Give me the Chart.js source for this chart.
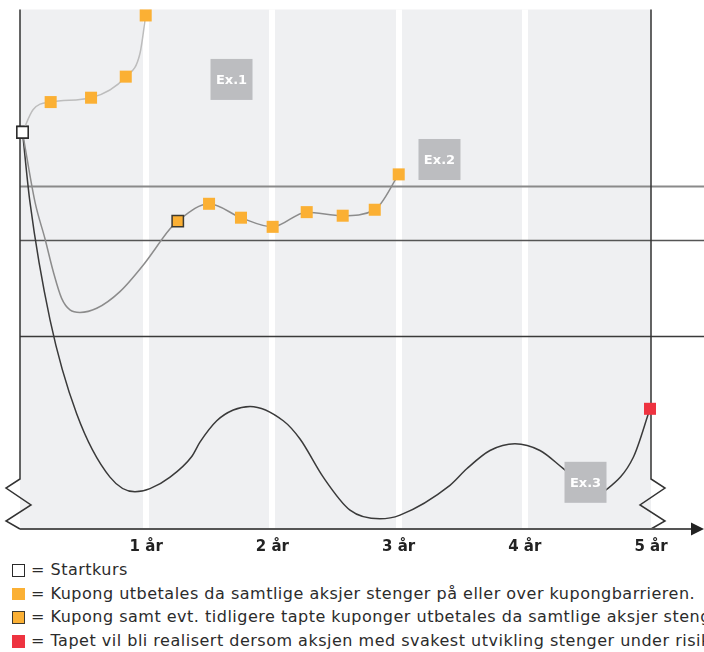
<!DOCTYPE html>
<html>
<head>
<meta charset="utf-8">
<script src="https://cdn.jsdelivr.net/npm/chart.js@4"></script>
<style>
  html, body { margin: 0; padding: 0; background: #fff; }
  body { width: 704px; height: 652px; overflow: hidden; position: relative; }
  #chart { position: absolute; left: 0; top: 0; }
  #legend { position: absolute; left: 0; top: 558px; width: 704px; font-family: "DejaVu Sans", sans-serif;
            font-size: 16px; letter-spacing: 0.5px; color: #2b2b2b; white-space: nowrap; }
  .row { position: relative; height: 23.7px; line-height: 23.7px; }
  .mark { position: absolute; left: 12px; top: 6px; width: 12.5px; height: 12.5px; box-sizing: border-box; }
  .txt { position: absolute; left: 31px; top: 0; }
  .start { background: #fff; border: 1.5px solid #2a2a2a; }
  .coupon { background: #fbb034; }
  .memory { background: #fbb034; border: 1.5px solid #3e3a30; }
  .loss { background: #ee3340; }
</style>
</head>
<body>
<canvas id="chart" width="704" height="558"></canvas>
<div id="legend"></div>
<script>
// x axis in years, y in % of start price
const xTicks = [1, 2, 3, 4, 5];
const xTickLabels = ['1 år', '2 år', '3 år', '4 år', '5 år'];
const barrierLevels = [86, 72.6, 48.25];

// marks: s = startkurs, c = kupong, m = kupong + tapte kuponger, l = tap, '' = no marker
const ex1Years  = [0.02, 0.103, 0.243, 0.563, 0.838, 0.951, 0.996];
const ex1Values = [99.6, 105.25, 107.2, 108.3, 113.6, 119.5, 129];
const ex1Marks  = ['s', '', 'c', 'c', 'c', '', 'c'];

const ex2Years  = [0.02, 0.119, 0.198, 0.264, 0.330, 0.396, 0.475, 0.608, 0.792, 0.977, 1.189,
                   1.25, 1.498, 1.751, 2.002, 2.272, 2.557, 2.811, 3.001];
const ex2Values = [99.6, 82, 72.8, 64.5, 57.8, 54.9, 54.25, 55.3, 59.5, 66.2, 75.3,
                   77.25, 81.6, 78.1, 75.8, 79.5, 78.6, 80.1, 89];
const ex2Marks  = ['s', '', '', '', '', '', '', '', '', '', '', 'm', 'c', 'c', 'c', 'c', 'c', 'c', 'c'];

const ex3Years  = [0.02, 0.079, 0.238, 0.449, 0.713, 0.911, 1.03, 1.189, 1.361, 1.426, 1.559, 1.69,
                   1.823, 2.086, 2.219, 2.403, 2.615, 2.852, 3.011, 3.407, 3.54, 3.724, 3.922, 4.12, 4.303,
                   4.56, 4.649, 4.86, 4.992];
const ex3Values = [99.6, 82, 52.4, 28.75, 12.8, 9.1, 9.9, 12.8, 18, 21.6, 27, 29.7,
                   30.6, 27, 22.4, 12.8, 4.5, 2.3, 3.25, 10.75, 14.9, 19.5, 21.2, 19.5, 15,
                   8.5, 9.7, 17.8, 30];
const ex3Marks  = ex3Years.map((t, i) => i === 0 ? 's' : (i === ex3Years.length - 1 ? 'l' : ''));

const legendKinds = ['start', 'coupon', 'memory', 'loss'];
const legendLabels = [
  '= Startkurs',
  '= Kupong utbetales da samtlige aksjer stenger på eller over kupongbarrieren.',
  '= Kupong samt evt. tidligere tapte kuponger utbetales da samtlige aksjer stenger på eller over kupongbarrieren.',
  '= Tapet vil bli realisert dersom aksjen med svakest utvikling stenger under risikobarrieren.'
];

const markFill   = { s: '#ffffff', c: '#fbb034', m: '#fbb034', l: '#ee3340' };
const markBorder = { s: '#2a2a2a', c: '#fbb034', m: '#3e3a30', l: '#ee3340' };
const markWidth  = { s: 1.5, c: 0, m: 1.5, l: 0 };

function makeSeries(label, years, values, marks, color) {
  return {
    label: label,
    data: years.map((t, i) => ({ x: t, y: values[i] })),
    borderColor: color,
    borderWidth: 1.5,
    cubicInterpolationMode: 'monotone',
    clip: false,
    pointStyle: 'rect',
    pointRadius: (c) => marks[c.dataIndex] ? (marks[c.dataIndex] === 'c' || marks[c.dataIndex] === 'l' ? 8.5 : 8) : 0,
    pointBackgroundColor: (c) => markFill[marks[c.dataIndex]] || color,
    pointBorderColor: (c) => markBorder[marks[c.dataIndex]] || color,
    pointBorderWidth: (c) => markWidth[marks[c.dataIndex]] || 0
  };
}

function drawBroken(ctx, px, top, bottom, dir) {
  const b = bottom - 49;
  ctx.beginPath();
  ctx.moveTo(px, top);
  ctx.lineTo(px, b);
  ctx.lineTo(px + 14 * dir, b + 9);
  ctx.lineTo(px - 11 * dir, b + 26);
  ctx.lineTo(px + 14 * dir, b + 42);
  ctx.lineTo(px, bottom + 1);
  ctx.stroke();
}

const levelColors = ['#8a8a8a', '#555555', '#3a3a3a'];
const levelWidths = [2, 1.5, 1.5];

const chartDecor = {
  id: 'chartDecor',
  beforeDraw(chart) {
    const { ctx, chartArea: a } = chart;
    ctx.save();
    ctx.fillStyle = '#eff0f2';
    ctx.fillRect(a.left, a.top, a.right - a.left, a.bottom - a.top);
    ctx.restore();
  },
  beforeDatasetsDraw(chart) {
    const { ctx, chartArea: a, scales: { x, y } } = chart;
    ctx.save();
    barrierLevels.forEach((lvl, i) => {
      const py = Math.round(y.getPixelForValue(lvl)) + 0.5;
      ctx.strokeStyle = levelColors[i];
      ctx.lineWidth = levelWidths[i];
      ctx.beginPath();
      ctx.moveTo(a.left, py);
      ctx.lineTo(chart.width, py);
      ctx.stroke();
    });
    const x0 = x.getPixelForValue(0), x5 = x.getPixelForValue(5), yb = y.getPixelForValue(0);
    ctx.strokeStyle = '#333';
    ctx.lineWidth = 1.5;
    drawBroken(ctx, x0, a.top, yb, -1);
    drawBroken(ctx, x5, a.top, yb, 1);
    // time axis with arrow
    ctx.strokeStyle = '#555';
    ctx.lineWidth = 2;
    ctx.beginPath();
    ctx.moveTo(x0, yb + 1);
    ctx.lineTo(chart.width - 12, yb + 1);
    ctx.stroke();
    ctx.fillStyle = '#222';
    ctx.beginPath();
    ctx.moveTo(chart.width, yb + 1);
    ctx.lineTo(chart.width - 13, yb - 5.5);
    ctx.lineTo(chart.width - 13, yb + 7.5);
    ctx.closePath();
    ctx.fill();
    ctx.restore();
  },
  afterDatasetsDraw(chart, args, opts) {
    const { ctx, scales: { x, y } } = chart;
    ctx.save();
    ctx.font = 'bold 13px "DejaVu Sans"';
    ctx.textAlign = 'center';
    ctx.textBaseline = 'middle';
    opts.boxes.forEach((b) => {
      const cx = x.getPixelForValue(b.x), cy = y.getPixelForValue(b.y);
      ctx.fillStyle = '#bcbdc0';
      ctx.fillRect(cx - 21, cy - 20.5, 42, 41);
      ctx.fillStyle = '#ffffff';
      ctx.fillText(b.text, cx, cy + 1);
    });
    ctx.restore();
  },
  defaults: { boxes: [] }
};

window.addEventListener('load', () => {
  const legend = document.getElementById('legend');
  legendLabels.forEach((txt, i) => {
    const row = document.createElement('div');
    row.className = 'row';
    row.innerHTML = '<span class="mark ' + legendKinds[i] + '"></span><span class="txt"></span>';
    row.querySelector('.txt').textContent = txt;
    legend.appendChild(row);
  });

  const config = {
    type: 'line',
    data: {
      datasets: [
        makeSeries('Ex.1', ex1Years, ex1Values, ex1Marks, '#bdbdbd'),
        makeSeries('Ex.2', ex2Years, ex2Values, ex2Marks, '#8c8c8c'),
        makeSeries('Ex.3', ex3Years, ex3Values, ex3Marks, '#3a3a3a')
      ]
    },
    options: {
      responsive: false,
      animation: false,
      events: [],
      layout: { padding: { left: 20, right: 53, top: 6, bottom: 0 } },
      scales: {
        x: {
          type: 'linear',
          min: 0,
          max: 5,
          afterBuildTicks: (scale) => { scale.ticks = xTicks.map((v) => ({ value: v })); },
          afterFit: (scale) => { scale.height = 30; },
          grid: {
            drawTicks: false,
            lineWidth: 6,
            color: (c) => (c.tick && c.tick.value < 5) ? '#ffffff' : 'rgba(0,0,0,0)'
          },
          border: { display: false },
          ticks: {
            padding: 10,
            autoSkip: false,
            maxRotation: 0,
            color: '#222',
            font: { family: 'DejaVu Sans', weight: 'bold', size: 15 },
            callback: (value, index) => xTickLabels[index]
          }
        },
        y: { type: 'linear', min: 0, max: 130.5, display: false }
      },
      plugins: {
        legend: { display: false },
        tooltip: { enabled: false },
        chartDecor: {
          boxes: [
            { text: 'Ex.1', x: 1.676, y: 112.9 },
            { text: 'Ex.2', x: 3.324, y: 92.75 },
            { text: 'Ex.3', x: 4.481, y: 11.5 }
          ]
        }
      }
    },
    plugins: [chartDecor]
  };

  new Chart(document.getElementById('chart').getContext('2d'), config);
});
</script>
</body>
</html>
